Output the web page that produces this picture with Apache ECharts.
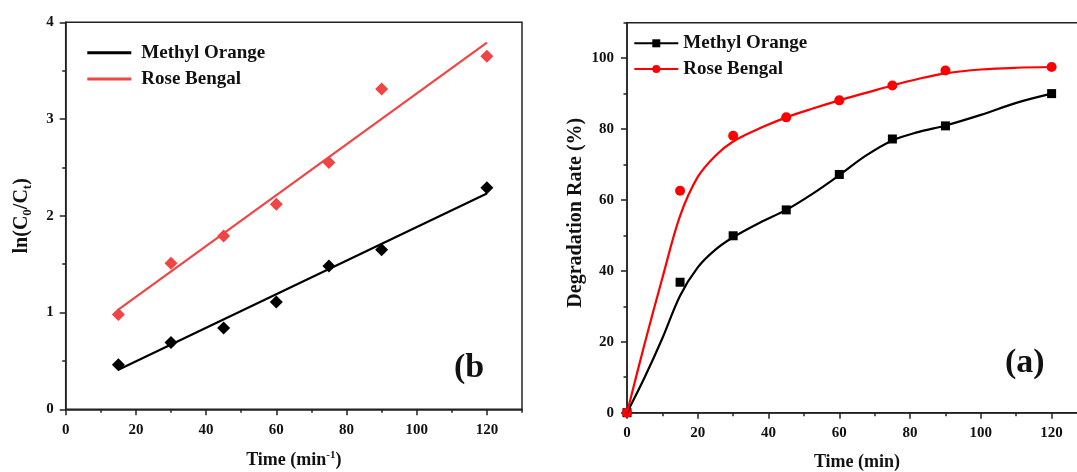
<!DOCTYPE html>
<html><head><meta charset="utf-8">
<script src="https://cdn.jsdelivr.net/npm/echarts@6/dist/echarts.min.js"></script>
<style>html,body{margin:0;padding:0;background:#fff}#c{width:1077px;height:472px}</style>
</head><body><div id="c"></div>
<script>
// ---- Panel (b): ln(C0/Ct) vs time ----
const timeB = [15, 30, 45, 60, 75, 90, 120];
const lnMO = [0.46, 0.69, 0.84, 1.11, 1.48, 1.65, 2.29];
const lnRB = [0.98, 1.51, 1.79, 2.12, 2.55, 3.31, 3.65];
const fitTimeB = [15, 120];
const lnFitMO = [0.41, 2.23];
const lnFitRB = [1.03, 3.79];

// ---- Panel (a): degradation rate vs time ----
const timeA = [0, 15, 30, 45, 60, 75, 90, 120];
const degMO = [0, 36.8, 49.9, 57.2, 67.2, 77.2, 80.9, 90.0];
const degRB = [0, 62.6, 78.1, 83.3, 88.1, 92.3, 96.5, 97.5];
const fitTimeA = [0, 5, 10, 15, 20, 25, 30, 37.5, 45, 52.5, 60, 67.5, 75, 82.5, 90, 100, 110, 120];
const degFitMO = [0, 10, 21, 33, 41, 46, 49.5, 53.6, 57.2, 61.8, 67, 72.5, 76.8, 79.2, 81, 84.0, 87.4, 90];
const degFitRB = [0, 19.5, 38, 55.5, 66.5, 72.5, 76.5, 80.2, 83.3, 85.8, 88.1, 90.2, 92.3, 94.2, 95.7, 96.8, 97.3, 97.5];

// ---- ticks ----
const xMajor = [0, 20, 40, 60, 80, 100, 120];
const xMinor = [10, 30, 50, 70, 90, 110, 130];
const yMajorB = [0, 1, 2, 3, 4];
const yMinorB = [0.5, 1.5, 2.5, 3.5];
const yMajorA = [0, 20, 40, 60, 80, 100];
const yMinorA = [10, 30, 50, 70, 90, 110];

const seriesNames = {
  MO_b: 'Methyl Orange', RB_b: 'Rose Bengal',
  MO_a: 'Methyl Orange', RB_a: 'Rose Bengal'
};

const F = '"Liberation Serif", "Times New Roman", serif';
const AX = '#222';
const RED_B = '#F04545';
const RED_A = '#FF0000';

const pair = (xs, ys) => xs.map((x, i) => [x, ys[i]]);

function mainAxis(grid, pos, min, max, major, margin, extra) {
  return Object.assign({
    type: 'value', gridIndex: grid, position: pos, min: min, max: max,
    axisLine: { show: true, onZero: false, lineStyle: { color: AX, width: 1.5 } },
    axisTick: { show: true, customValues: major, length: 6, lineStyle: { color: AX, width: 1.5 } },
    axisLabel: { customValues: major, margin: margin, fontSize: 15, fontWeight: 'bold', fontFamily: F, color: '#111' },
    splitLine: { show: false }, minorTick: { show: false }
  }, extra || {});
}
function minorAxis(grid, pos, min, max, minor) {
  return {
    type: 'value', gridIndex: grid, position: pos, min: min, max: max,
    axisLine: { show: false, onZero: false },
    axisTick: { show: true, customValues: minor, length: 3.5, lineStyle: { color: AX, width: 1.5 } },
    axisLabel: { show: false }, splitLine: { show: false }
  };
}

const chart = echarts.init(document.getElementById('c'), null, { renderer: 'canvas' });

const titleStyle = {
  fontSize: 18, fontWeight: 'bold', fontFamily: F, color: '#111',
  rich: {
    n: { fontSize: 18, fontWeight: 'bold', fontFamily: F, color: '#111', lineHeight: 22 },
    sup: { fontSize: 11, fontWeight: 'bold', fontFamily: F, color: '#111', lineHeight: 12, verticalAlign: 'top' }
  }
};
const yTitleStyleB = {
  fontSize: 20, fontWeight: 'bold', fontFamily: F, color: '#111',
  rich: {
    n: { fontSize: 20, fontWeight: 'bold', fontFamily: F, color: '#111', lineHeight: 24 },
    sub: { fontSize: 13, fontWeight: 'bold', fontFamily: F, color: '#111', lineHeight: 13, verticalAlign: 'bottom' }
  }
};

const option = {
  backgroundColor: '#fff',
  animation: false,
  grid: [
    { left: 65.7, top: 22.3, width: 456.3, height: 387, show: true, borderColor: AX, borderWidth: 1.5,
      backgroundColor: 'transparent', outerBoundsMode: 'none', containLabel: false },
    { left: 627, top: 22.7, width: 460, height: 390, show: true, borderColor: AX, borderWidth: 1.5,
      backgroundColor: 'transparent', outerBoundsMode: 'none', containLabel: false }
  ],
  xAxis: [
    mainAxis(0, 'bottom', 0, 130, xMajor, 13, {
      name: '{n|Time (min}{sup|-1}{n|)}', nameLocation: 'middle', nameGap: 40, nameTextStyle: titleStyle
    }),
    minorAxis(0, 'bottom', 0, 130, xMinor),
    mainAxis(1, 'bottom', 0, 130, xMajor, 13, {
      name: '{n|Time (min)}', nameLocation: 'middle', nameGap: 39, nameTextStyle: titleStyle
    }),
    minorAxis(1, 'bottom', 0, 130, xMinor)
  ],
  yAxis: [
    mainAxis(0, 'left', 0, 4, yMajorB, 12, {
      name: '{n|ln(C}{sub|0}{n|/C}{sub|t}{n|)}', nameLocation: 'middle', nameGap: 32, nameTextStyle: yTitleStyleB
    }),
    minorAxis(0, 'left', 0, 4, yMinorB),
    mainAxis(1, 'left', 0, 110, yMajorA, 13, {
      name: 'Degradation Rate (%)', nameLocation: 'middle', nameGap: 38,
      nameTextStyle: { fontSize: 20, fontWeight: 'bold', fontFamily: F, color: '#111', lineHeight: 24, padding: [0, 0, 0, 10] }
    }),
    minorAxis(1, 'left', 0, 110, yMinorA)
  ],
  legend: [
    {
      data: ['MO_b', 'RB_b'], orient: 'vertical', left: 87.3, top: 43.2, padding: 0,
      itemWidth: 44, itemHeight: 3, icon: 'rect', itemGap: 7.3,
      formatter: n => seriesNames[n],
      textStyle: { fontSize: 19, fontWeight: 'bold', fontFamily: F, color: '#111', padding: [0, 0, 0, 5] }
    },
    {
      data: ['MO_a', 'RB_a'], orient: 'vertical', left: 633.3, top: 33.8, padding: 0,
      itemWidth: 44, itemHeight: 10, itemGap: 6.7,
      formatter: n => seriesNames[n],
      textStyle: { fontSize: 19, fontWeight: 'bold', fontFamily: F, color: '#111' }
    }
  ],
  series: [
    { name: 'MO_b', type: 'line', xAxisIndex: 0, yAxisIndex: 0, data: pair(fitTimeB, lnFitMO),
      symbol: 'none', lineStyle: { color: '#000', width: 2.2 }, itemStyle: { color: '#000' } },
    { name: 'RB_b', type: 'line', xAxisIndex: 0, yAxisIndex: 0, data: pair(fitTimeB, lnFitRB),
      symbol: 'none', lineStyle: { color: RED_B, width: 2.2 }, itemStyle: { color: RED_B } },
    { name: 'MO_b_pts', type: 'scatter', xAxisIndex: 0, yAxisIndex: 0, data: pair(timeB, lnMO),
      symbol: 'diamond', symbolSize: 13, itemStyle: { color: '#000', opacity: 1 } },
    { name: 'RB_b_pts', type: 'scatter', xAxisIndex: 0, yAxisIndex: 0, data: pair(timeB, lnRB),
      symbol: 'diamond', symbolSize: 13, itemStyle: { color: RED_B, opacity: 1 } },

    { name: 'MO_a', type: 'line', xAxisIndex: 2, yAxisIndex: 2, data: pair(fitTimeA, degFitMO),
      smooth: 0.35, symbol: 'rect', symbolSize: 8, showSymbol: false,
      lineStyle: { color: '#000', width: 2.2 }, itemStyle: { color: '#000' } },
    { name: 'RB_a', type: 'line', xAxisIndex: 2, yAxisIndex: 2, data: pair(fitTimeA, degFitRB),
      smooth: 0.35, symbol: 'circle', symbolSize: 10, showSymbol: false,
      lineStyle: { color: RED_A, width: 2.2 }, itemStyle: { color: RED_A } },
    { name: 'MO_a_pts', type: 'scatter', xAxisIndex: 2, yAxisIndex: 2, data: pair(timeA, degMO),
      symbol: 'rect', symbolSize: 9, itemStyle: { color: '#000', opacity: 1 } },
    { name: 'RB_a_pts', type: 'scatter', xAxisIndex: 2, yAxisIndex: 2, data: pair(timeA, degRB),
      symbol: 'circle', symbolSize: 10, itemStyle: { color: RED_A, opacity: 1 } }
  ],
  graphic: [
    { type: 'text', x: 454, y: 368, style: { text: '(b', fontSize: 34, fontWeight: 'bold', fontFamily: F, fill: '#111', verticalAlign: 'middle' } },
    { type: 'text', x: 1005, y: 363, style: { text: '(a)', fontSize: 34, fontWeight: 'bold', fontFamily: F, fill: '#111', verticalAlign: 'middle' } }
  ]
};
chart.setOption(option);
</script>
</body></html>
